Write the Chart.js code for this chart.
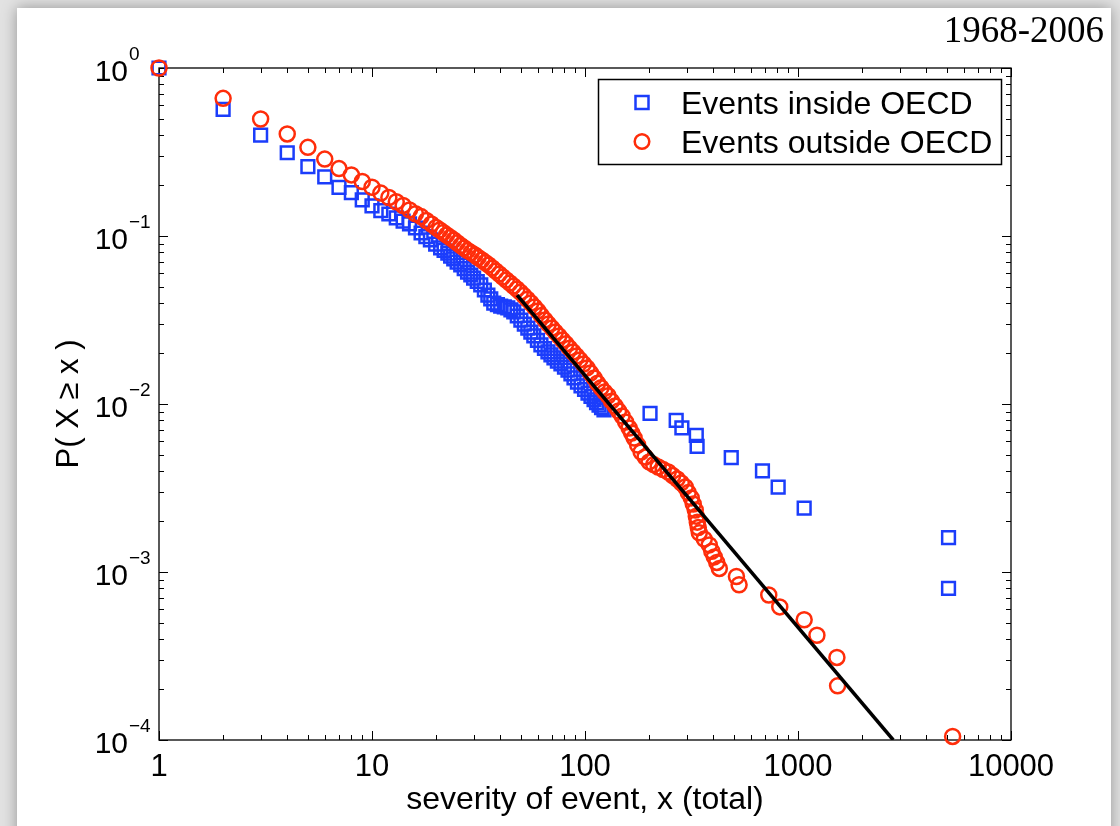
<!DOCTYPE html>
<html>
<head>
<meta charset="utf-8">
<title>Severity of events, 1968-2006</title>
<script src="https://cdn.jsdelivr.net/npm/chart.js@4.4.0/dist/chart.umd.min.js"></script>
<style>
    html, body { margin: 0; padding: 0; background: #e2e2e2; }
    canvas { display: block; }
</style>
</head>
<body>
<canvas id="ccdfChart" width="1120" height="826"></canvas>
<script>
// Events inside OECD (blue squares)
const insideX = [1, 2, 3, 4, 5, 6, 7, 8, 9, 10, 11, 12, 13, 14, 15, 16, 17, 17.9, 18.8, 19.9,
    21, 21.8, 22.7, 23.4, 24.2, 25.1, 26.1, 27.1, 28.1, 29.1, 30, 31.2, 32.4, 33.7, 35, 36.1, 37.3, 38.8, 40.2, 41.8,
    43.4, 44.9, 46.3, 48.1, 50, 51.9, 53.9, 55.7, 57.5, 59.8, 62.1, 64.5, 67, 69.2, 71.5, 74.2, 77.1, 80.1, 83.2, 85.9,
    88.8, 92.2, 95.8, 99.5, 103.3, 106.7, 110.3, 113.3, 116.4, 119.6, 122.8,
    202, 268, 285, 333, 336, 486, 681, 807, 1069, 5090, 5090];
const insideY = [1, 0.568, 0.399, 0.313, 0.259, 0.225, 0.195, 0.181, 0.164, 0.151, 0.1415, 0.1352, 0.128, 0.1228, 0.1179, 0.1116, 0.1042, 0.0993, 0.0947, 0.0896,
    0.0849, 0.0820, 0.0792, 0.0760, 0.0730, 0.0700, 0.0672, 0.0640, 0.0610, 0.0586, 0.0562, 0.0536, 0.0511, 0.0477, 0.0445, 0.0422, 0.0399, 0.0391, 0.0383, 0.0378,
    0.0373, 0.0363, 0.0353, 0.0334, 0.0316, 0.0299, 0.0283, 0.0268, 0.0254, 0.0239, 0.0225, 0.0214, 0.0204, 0.0196, 0.0188, 0.0180, 0.0173, 0.0166, 0.0159, 0.0151,
    0.0143, 0.0135, 0.0128, 0.0122, 0.0116, 0.0111, 0.0106, 0.0102, 0.00986, 0.00953, 0.00921,
    0.0088, 0.0080, 0.0072, 0.0065, 0.0056, 0.0048, 0.0040, 0.0032, 0.0024, 0.0016, 0.0008];

// Events outside OECD (red circles)
const outsideX = [1, 2, 3, 4, 5, 6, 7, 8, 9, 10, 11, 12, 13, 14, 15, 16, 17, 18, 19, 20,
    20.8, 21.6, 22.4, 23.3, 24.2, 25.1, 26.1, 27.1, 28.1, 29.2, 30.4, 31.5, 32.8, 34, 35.3, 36.7, 38.1, 39.6, 41.1, 42.7,
    44.4, 46.1, 47.9, 49.7, 51.6, 53.6, 55.7, 57.9, 60.1, 62.4, 64.8, 67.3, 69.9, 72.6, 75.4, 78.4, 81.4, 84.6, 87.8, 91.2,
    94.7, 98.4, 102.2, 106.1, 110.3, 114.5, 118.9, 123.5, 128.3, 133.2, 138.4, 143.7, 149.3, 155.1, 161.1, 165.5, 170.1, 176.6, 183.4, 191.6,
    200.1, 210.1, 220.6, 232.9, 245.9, 258.1, 271, 283, 295.5, 305.3, 315.3, 322.2, 329.3, 333, 336.6, 340.2, 344, 363.1, 383.2, 393.7,
    404.5, 415.6, 427.2, 514, 529, 729, 821, 1069, 1227, 1523, 1534, 5320];
const outsideY = [1, 0.660, 0.497, 0.405, 0.337, 0.287, 0.252, 0.231, 0.211, 0.195, 0.180, 0.1695, 0.160, 0.152, 0.143, 0.1356, 0.1305, 0.1237, 0.1179, 0.1123,
    0.1086, 0.1050, 0.1014, 0.0980, 0.0947, 0.0912, 0.0878, 0.0849, 0.0820, 0.0796, 0.0771, 0.0745, 0.0720, 0.0696, 0.0672, 0.0645, 0.0619, 0.0594, 0.0570, 0.0547,
    0.0525, 0.0504, 0.0484, 0.0463, 0.0442, 0.0420, 0.0399, 0.0378, 0.0358, 0.0336, 0.0316, 0.0299, 0.0283, 0.0268, 0.0254, 0.0240, 0.0228, 0.0215, 0.0204, 0.0193,
    0.0183, 0.0173, 0.0164, 0.0153, 0.0143, 0.0133, 0.0125, 0.0118, 0.0112, 0.0104, 0.00973, 0.00908, 0.00848, 0.00781, 0.00720, 0.00672, 0.00627, 0.00570, 0.00518, 0.00484,
    0.00452, 0.00436, 0.00422, 0.00407, 0.00394, 0.00375, 0.00358, 0.00339, 0.00321, 0.00297, 0.00276, 0.00254, 0.00234, 0.00215, 0.00198, 0.00184, 0.00171, 0.00157, 0.00145, 0.00133,
    0.00123, 0.00114, 0.00105, 0.00094, 0.00084, 0.00073, 0.00062, 0.00052, 0.00042, 0.00031, 0.00021, 0.000105];

// Power-law fit drawn as a straight black line
const fitX = [48, 2800];
const fitY = [0.0445, 0.0001];

// Axis ticks
const xTickValues = [1, 10, 100, 1000, 10000];
const xTickLabels = ['1', '10', '100', '1000', '10000'];
const yTickValues = [1, 0.1, 0.01, 0.001, 0.0001];
const yTickExponents = ['0', '\u22121', '\u22122', '\u22123', '\u22124'];
const minorSteps = [2, 3, 4, 5, 6, 7, 8, 9];

const BLUE = '#1b3dfb';
const RED = '#ff2d0a';
const SANS = '"Liberation Sans", Arial, Helvetica, sans-serif';

function toPoints(xs, ys) {
    return xs.map((v, i) => ({ x: v, y: ys[i] }));
}

const framePlugin = {
    id: 'frame',
    beforeDraw(chart) {
        const ctx = chart.ctx;
        ctx.save();
        ctx.fillStyle = '#e2e2e2';
        ctx.fillRect(0, 0, chart.width, chart.height);
        // white sheet with a soft shadow
        ctx.shadowColor = 'rgba(0, 0, 0, 0.35)';
        ctx.shadowBlur = 14;
        ctx.fillStyle = '#ffffff';
        ctx.fillRect(17, 8, 1094, 860);
        ctx.restore();
    },
    beforeDatasetsDraw(chart) {
        const { ctx, chartArea: a, scales: { x, y } } = chart;
        ctx.save();

        // axes box
        ctx.strokeStyle = '#000';
        ctx.lineWidth = 1.3;
        ctx.strokeRect(a.left, a.top, a.right - a.left, a.bottom - a.top);

        // inward ticks on all four sides
        ctx.lineWidth = 1;
        ctx.beginPath();
        const xTick = (v, len) => {
            const px = Math.round(x.getPixelForValue(v)) + 0.5;
            ctx.moveTo(px, a.bottom); ctx.lineTo(px, a.bottom - len);
            ctx.moveTo(px, a.top); ctx.lineTo(px, a.top + len);
        };
        const yTick = (v, len) => {
            const py = Math.round(y.getPixelForValue(v)) + 0.5;
            ctx.moveTo(a.left, py); ctx.lineTo(a.left + len, py);
            ctx.moveTo(a.right, py); ctx.lineTo(a.right - len, py);
        };
        xTickValues.forEach((v, i) => {
            xTick(v, 9);
            if (i < xTickValues.length - 1) minorSteps.forEach(k => xTick(v * k, 5));
        });
        yTickValues.forEach((v, i) => {
            yTick(v, 9);
            if (i > 0) minorSteps.forEach(k => yTick(v * k, 5));
        });
        ctx.stroke();

        // x tick labels
        ctx.fillStyle = '#000';
        ctx.font = '31px ' + SANS;
        ctx.textAlign = 'center';
        ctx.textBaseline = 'alphabetic';
        xTickValues.forEach((v, i) => {
            ctx.fillText(xTickLabels[i], x.getPixelForValue(v), a.bottom + 36);
        });

        // y tick labels: 10 with a superscript exponent
        yTickValues.forEach((v, i) => {
            const py = y.getPixelForValue(v);
            ctx.font = '30px ' + SANS;
            ctx.textAlign = 'right';
            ctx.fillText('10', 128, py + 13);
            ctx.font = '19px ' + SANS;
            ctx.textAlign = 'left';
            ctx.fillText(yTickExponents[i], 129, py - 8);
        });

        // axis titles
        ctx.font = '32px ' + SANS;
        ctx.textAlign = 'center';
        ctx.fillText('severity of event, x (total)', (a.left + a.right) / 2, a.bottom + 69);
        ctx.save();
        ctx.font = '31px ' + SANS;
        ctx.translate(78, (a.top + a.bottom) / 2);
        ctx.rotate(-Math.PI / 2);
        ctx.fillText('P( X \u2265 x )', 0, 0);
        ctx.restore();

        // period in the corner
        ctx.font = '37px "Liberation Serif", "Times New Roman", serif';
        ctx.textAlign = 'right';
        ctx.fillText('1968-2006', 1104, 42);
        ctx.restore();
    },
    afterDraw(chart) {
        const ctx = chart.ctx;
        ctx.save();
        // legend box
        ctx.fillStyle = '#fff';
        ctx.fillRect(598.5, 79.5, 403, 85);
        ctx.strokeStyle = '#000';
        ctx.lineWidth = 1.5;
        ctx.strokeRect(598.5, 79.5, 403, 85);

        ctx.lineWidth = 2.5;
        ctx.strokeStyle = BLUE;
        ctx.strokeRect(635.5, 96, 13, 13);
        ctx.strokeStyle = RED;
        ctx.beginPath();
        ctx.arc(642, 141.5, 7.3, 0, Math.PI * 2);
        ctx.stroke();

        ctx.fillStyle = '#000';
        ctx.font = '32px ' + SANS;
        ctx.textAlign = 'left';
        ctx.fillText(chart.data.datasets[0].label, 681, 114);
        ctx.fillText(chart.data.datasets[1].label, 681, 152.5);
        ctx.restore();
    }
};

const ctx = document.getElementById('ccdfChart');
new Chart(ctx, {
    type: 'scatter',
    data: {
        datasets: [
            {
                label: 'Events inside OECD',
                data: toPoints(insideX, insideY),
                pointStyle: 'rect',
                pointRadius: 9,
                borderColor: BLUE,
                backgroundColor: 'rgba(0,0,0,0)',
                borderWidth: 2.5,
                order: 3,
                clip: false
            },
            {
                label: 'Events outside OECD',
                data: toPoints(outsideX, outsideY),
                pointStyle: 'circle',
                pointRadius: 7.5,
                borderColor: RED,
                backgroundColor: 'rgba(0,0,0,0)',
                borderWidth: 2.5,
                order: 2,
                clip: false
            },
            {
                label: 'fit',
                type: 'line',
                data: toPoints(fitX, fitY),
                showLine: true,
                pointRadius: 0,
                borderColor: '#000',
                borderWidth: 3.5,
                fill: false,
                order: 1
            }
        ]
    },
    options: {
        responsive: false,
        animation: false,
        events: [],
        layout: { padding: { left: 159, top: 68, right: 109, bottom: 86 } },
        plugins: {
            legend: { display: false },
            tooltip: { enabled: false }
        },
        scales: {
            x: { type: 'logarithmic', min: 1, max: 10000, display: false },
            y: { type: 'logarithmic', min: 0.0001, max: 1, display: false }
        }
    },
    plugins: [framePlugin]
});
</script>
</body>
</html>
